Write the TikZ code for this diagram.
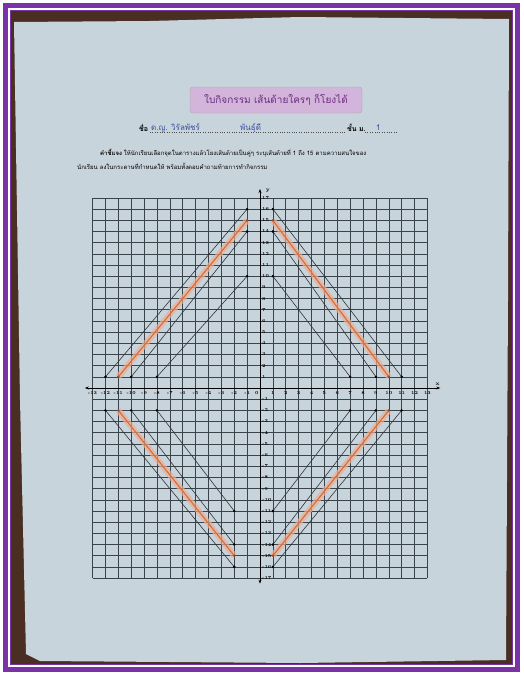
\documentclass[tikz,border=0pt]{standalone}
\usepackage{fontspec}
\newfontfamily\thai[Script=Thai]{Loma}
\usetikzlibrary{arrows.meta}
\definecolor{framec}{HTML}{7A33A6}
\definecolor{wood}{HTML}{4A2E22}
\definecolor{paper}{HTML}{C8D4DC}
\definecolor{gridc}{HTML}{3A424A}
\definecolor{pencil}{HTML}{2E343A}
\definecolor{orangel}{HTML}{DD6A30}
\definecolor{orangeb}{HTML}{E9AE96}
\definecolor{titlebg}{HTML}{D3B4DB}
\definecolor{titletx}{HTML}{6A2C7E}
\definecolor{ink}{HTML}{3A4FA0}
\tikzset{
  gridline/.style={gridc, line width=0.55pt},
  pline/.style={pencil, line width=0.6pt},
  oband/.style={orangeb, line width=6pt, opacity=0.7},
  oline/.style={orangel, line width=1.1pt},
  enddot/.style={fill=black, draw=none},
  ticklab/.style={font=\fontsize{4.5}{4.5}\selectfont\bfseries, text=black, inner sep=0.5pt},
  titlebox/.style={draw=black!35, fill=titlebg, rounded corners=3pt, minimum width=172pt, minimum height=26pt, text=titletx},
}
\begin{document}
\begin{tikzpicture}[x=1pt,y=-1pt]
\useasboundingbox (0,0) rectangle (523,675);
\fill[white] (0,0) rectangle (523,675);
\fill[wood] (10,10) rectangle (513,665);
\fill[paper] (14,22) -- (150,21) -- (300,17) -- (509,19) -- (508,300) -- (506,660) -- (300,663) -- (40,661) -- (26,654) -- (20,400) -- cycle;
\draw[framec, line width=5pt] (5.5,5.5) rectangle (517.5,669.5);
\draw[framec, line width=1pt] (10.5,10.5) rectangle (512.5,664.5);

% header
\node[titlebox] (title) at (276,100) {\thai\fontsize{10}{12}\selectfont ใบกิจกรรม เส้นด้ายใครๆ ก็โยงได้};
\node[anchor=base west, inner sep=0pt] (namelab) at (139,131) {\thai\fontsize{7}{8}\selectfont\bfseries ชื่อ};
\coordinate (nl1) at (150,132);
\coordinate (nl2) at (345,132);
\draw[dotted, black!70] (nl1) -- (nl2);
\node[anchor=base west, inner sep=0pt, text=ink] (name1) at (151,130) {\thai\fontsize{8}{9}\selectfont ด.ญ. วิรัลพัชร์};
\node[anchor=base west, inner sep=0pt, text=ink] (name2) at (240,130) {\thai\fontsize{8}{9}\selectfont พันธุ์ดี};
\node[anchor=base west, inner sep=0pt] (classlab) at (347,131) {\thai\fontsize{7}{8}\selectfont\bfseries ชั้น ม.};
\coordinate (cl1) at (365,132);
\coordinate (cl2) at (398,132);
\draw[dotted, black!70] (cl1) -- (cl2);
\node[anchor=base west, inner sep=0pt, text=ink] (classno) at (376,130) {\thai\fontsize{8}{9}\selectfont 1};
\node[anchor=base west, inner sep=0pt] (instr1) at (100,155) {\thai\fontsize{6}{7}\selectfont\textbf{คำชี้แจง} ให้นักเรียนเลือกจุดในตารางแล้วโยงเส้นด้ายเป็นคู่ๆ ระบุเส้นด้ายที่ 1 ถึง 15 ตามความสนใจของ};
\node[anchor=base west, inner sep=0pt] (instr2) at (77,169) {\thai\fontsize{6}{7}\selectfont นักเรียน ลงในกระดาษที่กำหนดให้ พร้อมทั้งตอบคำถามท้ายการทำกิจกรรม};

% graph
\begin{scope}[shift={(260,388)}, x=12.88pt, y=11.18pt]
  \foreach \i in {-13,...,13} \draw[gridline] (\i,-17) -- (\i,17);
  \foreach \j in {-17,...,17} \draw[gridline] (-13,\j) -- (13,\j);
  \coordinate (xl) at (-13.6,0);
  \coordinate (xr) at (14,0);
  \coordinate (yb) at (0,-17.5);
  \coordinate (yt) at (0,17.8);
  \draw[black, line width=0.9pt, {Stealth[length=4pt,width=3pt]}-{Stealth[length=4pt,width=3pt]}] (xl) -- (xr);
  \draw[black, line width=0.9pt, {Stealth[length=4pt,width=3pt]}-{Stealth[length=4pt,width=3pt]}] (yb) -- (yt);
  \node[ticklab, anchor=south] (xlab) at (13.8,0.2) {\fontsize{5.5}{5.5}\selectfont x};
  \node[ticklab, anchor=west] (ylab) at (0.4,17.6) {\fontsize{5.5}{5.5}\selectfont y};
  \foreach \i in {-13,...,-1,1,2,...,13} \node[ticklab, anchor=north] at (\i,-0.25) {\i};
  \node[ticklab, anchor=north east] at (-0.05,-0.25) {0};
  \foreach \j in {-17,...,-1,1,2,...,17} \node[ticklab, anchor=west] at (0.12,\j) {\j};
  % orange highlighted strings
  \foreach \xa/\ya/\xb/\yb in {-11/1/-1/15, 1/15/10/1, -11/-2/-2/-15, 1/-15/10/-2}{
    \draw[oband] (\xa,\ya) -- (\xb,\yb);
    \draw[oline] (\xa,\ya) -- (\xb,\yb);
  }
  % pencil strings
  \foreach \xa/\ya/\xb/\yb in {-12/1/-1/16, -10/1/-1/14, -8/1/-1/10,
                              1/16/11/1, 1/14/9/1, 1/10/7/1,
                              -12/-2/-2/-16, -10/-2/-2/-14, -8/-2/-2/-11,
                              1/-16/11/-2, 1/-14/9/-2, 1/-11/7/-2}{
    \draw[pline] (\xa,\ya) -- (\xb,\yb);
    \fill[enddot] (\xa,\ya) circle[radius=1.4pt];
    \fill[enddot] (\xb,\yb) circle[radius=1.4pt];
  }
  \foreach \xa/\ya/\xb/\yb in {-11/1/-1/15, 1/15/10/1, -11/-2/-2/-15, 1/-15/10/-2}{
    \fill[orangel!70!black] (\xa,\ya) circle[radius=1.4pt];
    \fill[orangel!70!black] (\xb,\yb) circle[radius=1.4pt];
  }
\end{scope}
\end{tikzpicture}
\end{document}
